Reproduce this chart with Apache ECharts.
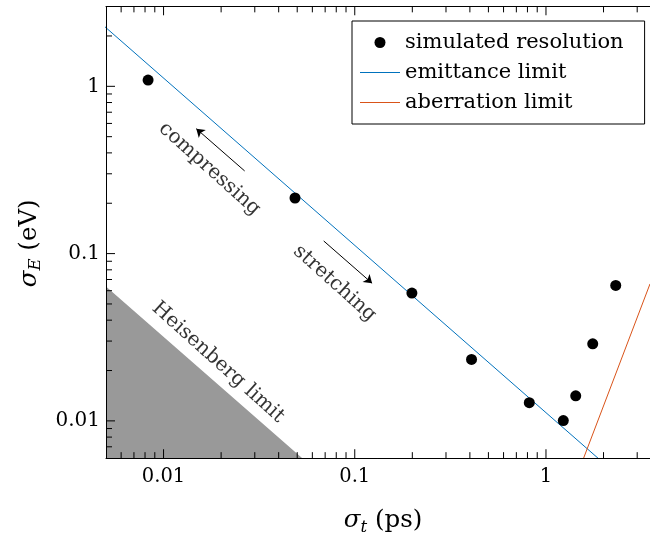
<!DOCTYPE html>
<html><head><meta charset="utf-8">
<script src="https://cdn.jsdelivr.net/npm/echarts@6/dist/echarts.min.js"></script>
<style>html,body{margin:0;padding:0;background:#fff}#c{width:650px;height:541px}</style>
</head><body><div id="c"></div>
<script>
// ---- data ----
const simT = [0.0083, 0.0487, 0.199, 0.408, 0.818, 1.232, 1.431, 1.756, 2.317];
const simE = [1.09, 0.215, 0.0581, 0.0233, 0.01285, 0.01004, 0.01413, 0.0289, 0.0645];
const emitT = [0.004, 3.5];
const emitE = [2.8, 0.0032];
const aberT = [1.4, 3.5];
const aberE = [0.00422, 0.0659];
const heisT = [0.004, 0.06];
const heisE = [0.0795, 0.0053];
const xRange = [0.005, 3.5];
const yRange = [0.006, 3];
const majorXTicks = [0.01, 0.1, 1];
const majorYTicks = [0.01, 0.1, 1];
const minorXTicks = [0.006,0.007,0.008,0.009,0.02,0.03,0.04,0.05,0.06,0.07,0.08,0.09,0.2,0.3,0.4,0.5,0.6,0.7,0.8,0.9,2,3];
const minorYTicks = [0.007,0.008,0.009,0.02,0.03,0.04,0.05,0.06,0.07,0.08,0.09,0.2,0.3,0.4,0.5,0.6,0.7,0.8,0.9,2];
const arrowCompress = [[0.02655, 0.312], [0.01483, 0.558]];
const arrowStretch = [[0.0688, 0.119], [0.1232, 0.0665]];
const noteTexts = ['compressing', 'stretching', 'Heisenberg limit'];
const noteT = [0.0174, 0.0785, 0.0193];
const noteE = [0.321, 0.0665, 0.0224];
const legendNames = ['simulated resolution', 'emittance limit', 'aberration limit'];

const FONT = 'DejaVu Serif';
const GRID = {left: 106, top: 6.5, width: 544, height: 463};
const MAJOR = 9, MINOR = 6;
const zip = (a, b) => a.map((v, i) => [v, b[i]]);
const fmt = v => String(+Number(v).toPrecision(6));
const xDec = GRID.width / Math.log10(xRange[1] / xRange[0]);
const yDec = GRID.height / Math.log10(yRange[1] / yRange[0]);
const noteAngle = -Math.atan(yDec / xDec) * 180 / Math.PI;

// tick marks: short segments (tick length in px -> factor on the log scale)
const fx = len => Math.pow(10, len / xDec);
const fy = len => Math.pow(10, len / yDec);
const BREAK = ['-', '-'];
function tickSegs(values, len, edge) {
  const out = [];
  values.forEach(v => {
    if (edge === 'bottom') out.push([v, yRange[0]], [v, yRange[0] * fy(len)], BREAK);
    else if (edge === 'top') out.push([v, yRange[1]], [v, yRange[1] / fy(len)], BREAK);
    else out.push([xRange[0], v], [xRange[0] * fx(len), v], BREAK);
  });
  return out;
}
const tickData = [].concat(
  tickSegs(majorXTicks, MAJOR, 'bottom'), tickSegs(minorXTicks, MINOR, 'bottom'),
  tickSegs(majorXTicks, MAJOR, 'top'), tickSegs(minorXTicks, MINOR, 'top'),
  tickSegs(majorYTicks, MAJOR, 'left'), tickSegs(minorYTicks, MINOR, 'left')
);

const chart = echarts.init(document.getElementById('c'));
const axisCommon = {
  type: 'log', logBase: 10, z: 10,
  axisLine: {show: true, lineStyle: {color: '#000', width: 1}},
  axisTick: {show: false},
  splitLine: {show: false}
};
const nameRich = {
  s: {fontFamily: FONT, fontStyle: 'italic', fontSize: 24.5, lineHeight: 30, color: '#000'},
  sub: {fontFamily: FONT, fontStyle: 'italic', fontSize: 16.5, lineHeight: 16, padding: [15, 0, 0, 0], verticalAlign: 'bottom', color: '#000'},
  n: {fontFamily: FONT, fontSize: 24.5, lineHeight: 30, color: '#000'}
};
chart.setOption({
  animation: false,
  grid: {left: GRID.left, top: GRID.top, width: GRID.width, height: GRID.height},
  xAxis: [
    Object.assign({}, axisCommon, {
      position: 'bottom', min: xRange[0], max: xRange[1],
      name: '{s|σ}{sub|t}{n| (ps)}', nameLocation: 'middle', nameGap: 48,
      nameTextStyle: {rich: nameRich, padding: [0, 0, 0, 10]},
      axisLabel: {showMinLabel: false, showMaxLabel: false, margin: 9, fontFamily: FONT, fontSize: 19.5, color: '#000', formatter: fmt}
    }),
    Object.assign({}, axisCommon, {
      position: 'top', min: xRange[0], max: xRange[1], axisLabel: {show: false}
    })
  ],
  yAxis: [
    Object.assign({}, axisCommon, {
      position: 'left', min: yRange[0], max: yRange[1],
      name: '{s|σ}{sub|E}{n| (eV)}', nameLocation: 'middle', nameGap: 39,
      nameTextStyle: {rich: nameRich, padding: [0, 22, 0, 0]},
      axisLabel: {showMinLabel: false, showMaxLabel: false, margin: 6, fontFamily: FONT, fontSize: 20, color: '#000', formatter: fmt}
    })
  ],
  legend: {
    data: [
      {name: legendNames[0], icon: 'circle'},
      {name: legendNames[1], icon: 'path://M0,0H40V1H0Z'},
      {name: legendNames[2], icon: 'path://M0,0H40V1H0Z'}
    ],
    orient: 'vertical', left: 352, top: 21, symbolKeepAspect: true,
    padding: [11, 21, 11, 8], itemGap: 9, itemWidth: 40, itemHeight: 11,
    backgroundColor: '#fff', borderColor: '#000', borderWidth: 1, borderRadius: 0,
    selectedMode: false,
    textStyle: {fontFamily: FONT, fontSize: 21, lineHeight: 21, color: '#000', padding: [0, 0, 0, 0]}
  },
  series: [
    {
      name: 'heis', type: 'line', data: zip(heisT, heisE), clip: true,
      showSymbol: false, symbol: 'none', silent: true,
      lineStyle: {width: 0, color: '#999'},
      areaStyle: {color: '#999', opacity: 1, origin: 'start'}, z: 1
    },
    {
      name: 'ticks', type: 'line', data: tickData, clip: false, connectNulls: false,
      showSymbol: false, symbol: 'none', silent: true, color: '#000',
      lineStyle: {width: 1, color: '#000'}, z: 2
    },
    {
      name: legendNames[1], type: 'line', data: zip(emitT, emitE), clip: true,
      showSymbol: false, symbol: 'none', color: '#0072BD',
      lineStyle: {width: 1, color: '#0072BD'}, z: 3,
      markLine: {
        silent: true, animation: false, symbol: ['none', 'arrow'], symbolSize: 8,
        label: {show: false},
        lineStyle: {color: '#000', width: 1, type: 'solid'},
        itemStyle: {color: '#000'},
        data: [
          [{coord: arrowCompress[0]}, {coord: arrowCompress[1]}],
          [{coord: arrowStretch[0]}, {coord: arrowStretch[1]}]
        ]
      }
    },
    {
      name: legendNames[2], type: 'line', data: zip(aberT, aberE), clip: true,
      showSymbol: false, symbol: 'none', color: '#D95319',
      lineStyle: {width: 1, color: '#D95319'}, z: 3
    },
    {
      name: legendNames[0], type: 'scatter', data: zip(simT, simE),
      symbol: 'circle', symbolSize: 11, itemStyle: {color: '#000', opacity: 1}, z: 5
    },
    {
      name: 'notes', type: 'scatter', silent: true, symbolSize: 0, z: 20,
      data: noteTexts.map((t, i) => ({name: t, value: [noteT[i], noteE[i]]})),
      label: {show: true, position: 'inside', formatter: '{b}', rotate: noteAngle,
              fontFamily: FONT, fontSize: 20, color: '#000', align: 'center', verticalAlign: 'middle'},
      labelLayout: {hideOverlap: false}
    }
  ]
});
</script>
</body></html>
